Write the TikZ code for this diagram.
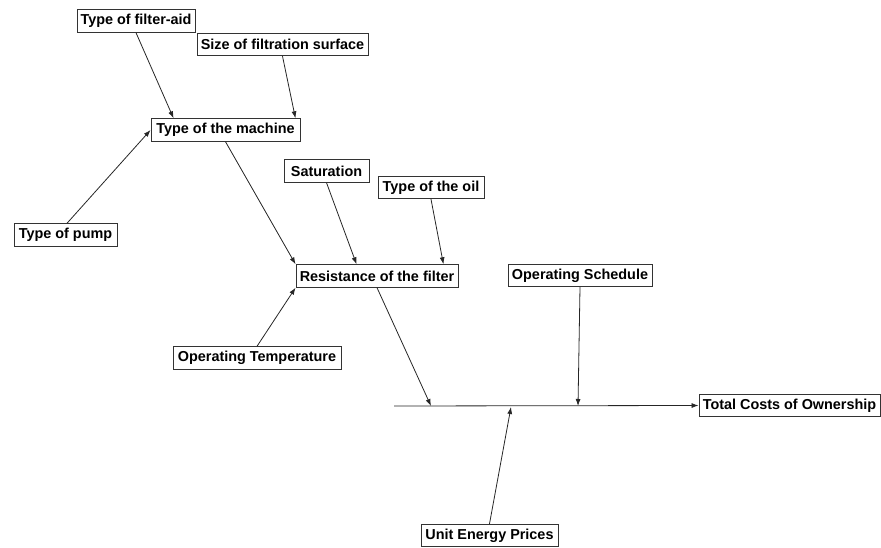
\documentclass[tikz,border=0pt]{standalone}
\usepackage{fontspec}
\setmainfont{Liberation Sans}
\usetikzlibrary{arrows.meta}
\begin{document}
\begin{tikzpicture}[x=1pt,y=-1pt,
  box/.style={draw=black!80,line width=0.9pt,fill=white,inner xsep=1pt,inner ysep=0pt,
    minimum height=22.5pt,font=\fontsize{14.4}{16}\selectfont\bfseries},
  arr/.style={draw=black!85,line width=0.8pt,-{Latex[length=7pt,width=5pt]}}]
\useasboundingbox (0,0) rectangle (881,548);
\node[box,minimum width=118pt] (fa) at (136,21) {Type of filter-aid};
\node[box,minimum width=171pt] (size) at (282.5,44.5) {Size of filtration surface};
\node[box,minimum width=149pt] (mach) at (225.5,130) {Type of the machine};
\node[box,minimum width=103pt] (pump) at (65.5,235) {Type of pump};
\node[box,minimum width=85pt] (sat) at (326.5,171) {Saturation};
\node[box,minimum width=106pt] (oil) at (431,187.5) {Type of the oil};
\node[box,minimum width=162pt] (res) at (377,276) {Resistance of the filter};
\node[box,minimum width=168pt] (opt) at (257,358) {Operating Temperature};
\node[box,minimum width=144pt] (sched) at (580,275.5) {Operating Schedule};
\node[box,minimum width=181pt] (tco) at (789.5,405.5) {Total Costs of Ownership};
\node[box,minimum width=137pt] (unit) at (489.5,535.5) {Unit Energy Prices};
\coordinate (s0) at (394,406);
\coordinate (s1) at (431,406);
\coordinate (s2) at (578,406);
\coordinate (s3) at (511,407);
\draw[arr] (s0) -- (tco.west);
\draw[arr] (fa.south) -- ([xshift=23pt]mach.north west);
\draw[arr] (size.south) -- ([xshift=-5pt]mach.north east);
\draw[arr] ([xshift=1.5pt]pump.north) -- (mach.west);
\draw[arr] (mach.south) -- (res.north west);
\draw[arr] (sat.south) -- ([xshift=61pt]res.north west);
\draw[arr] (oil.south) -- ([xshift=-15pt]res.north east);
\draw[arr] (opt.north) -- (res.south west);
\draw[arr] (res.south) -- (s1);
\draw[arr] (sched.south) -- (s2);
\draw[arr] (unit.north) -- (s3);
\end{tikzpicture}
\end{document}
